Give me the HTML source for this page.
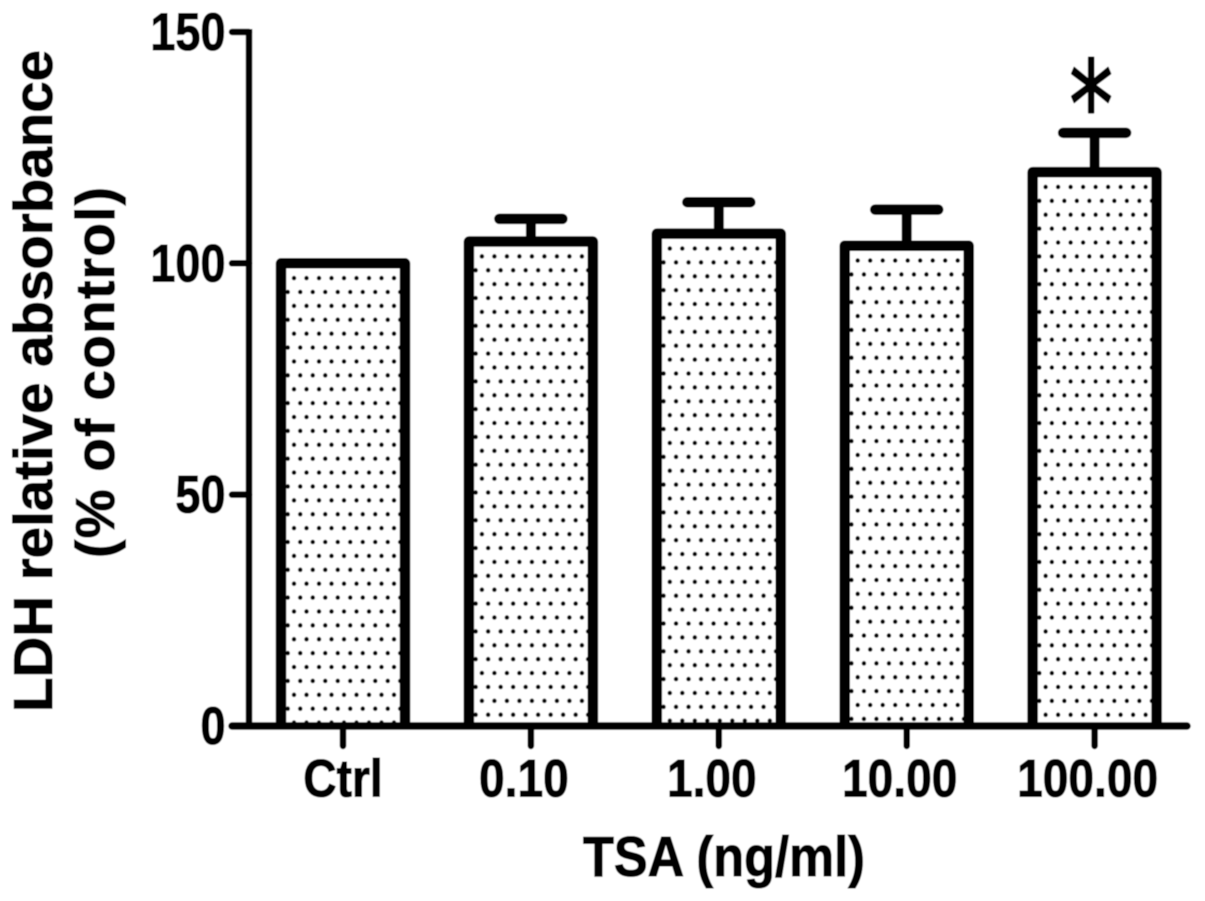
<!DOCTYPE html>
<html>
<head>
<meta charset="utf-8">
<title>LDH relative absorbance chart</title>
<style>
html,body{margin:0;padding:0;background:#fff;}
svg{display:block;}
text{font-family:"Liberation Sans",sans-serif;font-weight:bold;fill:#000;stroke:#000;stroke-width:1;}
</style>
</head>
<body>
<svg id="chart" width="1205" height="901" viewBox="0 0 1205 901" xmlns="http://www.w3.org/2000/svg">
<defs id="defs"><filter id="soft" x="-5%" y="-5%" width="110%" height="110%"><feGaussianBlur stdDeviation="0.5"/></filter></defs>
<g id="root" filter="url(#soft)">
<rect width="1205" height="901" fill="#fff"/>
<g id="bars"></g>
<g id="axes"></g>
<g id="labels"></g>
<text transform="translate(52,712) rotate(-90)" font-size="55" textLength="662" lengthAdjust="spacingAndGlyphs">LDH relative absorbance</text>
<text transform="translate(114,558) rotate(-90)" font-size="55" textLength="371" lengthAdjust="spacing">(% of control)</text>
<text x="583" y="876" font-size="57" textLength="282" lengthAdjust="spacingAndGlyphs">TSA (ng/ml)</text>
</g>
</svg>
<script>
const categories = ['Ctrl', '0.10', '1.00', '10.00', '100.00'];
const means = [100, 104.7, 106.4, 103.8, 119.7];
const errors = [0, 4.9, 6.8, 7.8, 8.5];
const significant = ['', '', '', '', '*'];
const yTicks = [0, 50, 100, 150];

const NS = 'http://www.w3.org/2000/svg';
const y0 = 726, yPerUnit = 4.627, xStart = 343, xStep = 187.9, halfBar = 62, capHalf = 31.5;
function yScale(v) { return y0 - v * yPerUnit; }
function xScale(i) { return xStart + i * xStep; }
function mk(tag, attrs, parent) {
  const el = document.createElementNS(NS, tag);
  for (const k in attrs) el.setAttribute(k, attrs[k]);
  parent.appendChild(el);
  return el;
}
const defs = document.getElementById('defs');
const barsG = document.getElementById('bars');
const axesG = document.getElementById('axes');
const labelsG = document.getElementById('labels');

categories.forEach((cat, i) => {
  const cx = xScale(i), top = yScale(means[i]);
  const left = cx - halfBar, right = cx + halfBar;
  const pat = mk('pattern', {id: 'dots' + i, patternUnits: 'userSpaceOnUse', width: 12.5, height: 27.78,
    x: left + 13 - 3.125, y: top + 14.8 - 3}, defs);
  mk('circle', {cx: 3.125, cy: 3, r: 2.2, fill: '#000'}, pat);
  mk('circle', {cx: 9.375, cy: 16.89, r: 2.2, fill: '#000'}, pat);

  const fill = mk('rect', {x: left, y: top, width: right - left, height: y0 - top, fill: 'url(#dots' + i + ')'}, barsG);
  
  

  const outline = mk('path', {d: `M${left} ${y0}V${top}H${right}V${y0}`, fill: 'none', stroke: '#000', 'stroke-width': 10.5, 'stroke-linejoin': 'round'}, barsG);
  
  

  if (errors[i] > 0) {
    const ey = yScale(means[i] + errors[i]);
    const stem = mk('line', {x1: cx, x2: cx, y1: top, y2: ey, stroke: '#000', 'stroke-width': 10}, barsG);
    
    
    const cap = mk('line', {x1: cx - capHalf, x2: cx + capHalf, y1: ey, y2: ey, stroke: '#000', 'stroke-width': 10.5, 'stroke-linecap': 'round'}, barsG);
    
    
  }

  const xt = mk('line', {x1: cx, x2: cx, y1: y0, y2: y0 + 20, stroke: '#000', 'stroke-width': 6.5, 'stroke-linecap': 'round'}, axesG);
  
  

  const labelShift = i === 0 ? 0 : -7;
  const lab = mk('text', {transform: `translate(${cx + labelShift},796.5) scale(0.87,1)`, 'text-anchor': 'middle', 'font-size': 53}, labelsG);
  
  
  lab.textContent = cat;

  if (significant[i]) {
    const ey = yScale(means[i] + errors[i]);
    const star = mk('text', {transform: `translate(${cx - 3.5},${ey + 14}) scale(0.88,1.2)`, 'text-anchor': 'middle', 'font-size': 100}, labelsG);
    star.style.fontFamily = '"DejaVu Sans",sans-serif';
    star.style.fontWeight = 'normal';
    star.style.strokeWidth = '1.8';
    star.style.strokeLinejoin = 'round';
    
    
    star.textContent = significant[i];
  }
});

yTicks.forEach((t, i) => {
  const y = yScale(t);
  const tick = mk('line', {x1: 232, x2: 249, y1: y, y2: y, stroke: '#000', 'stroke-width': 6.5, 'stroke-linecap': 'round'}, axesG);
  
  
  const lab = mk('text', {transform: `translate(225.5,${y + 18}) scale(0.85,1)`, 'text-anchor': 'end', 'font-size': 53}, labelsG);
  
  
  lab.textContent = t;
});

const yAxis = mk('line', {x1: 249, x2: 249, y1: yScale(150) - 3, y2: y0, stroke: '#000', 'stroke-width': 6.5}, axesG);


const xAxis = mk('line', {x1: 232, x2: 1187, y1: y0, y2: y0, stroke: '#000', 'stroke-width': 7.5, 'stroke-linecap': 'round'}, axesG);


</script>
</body>
</html>
